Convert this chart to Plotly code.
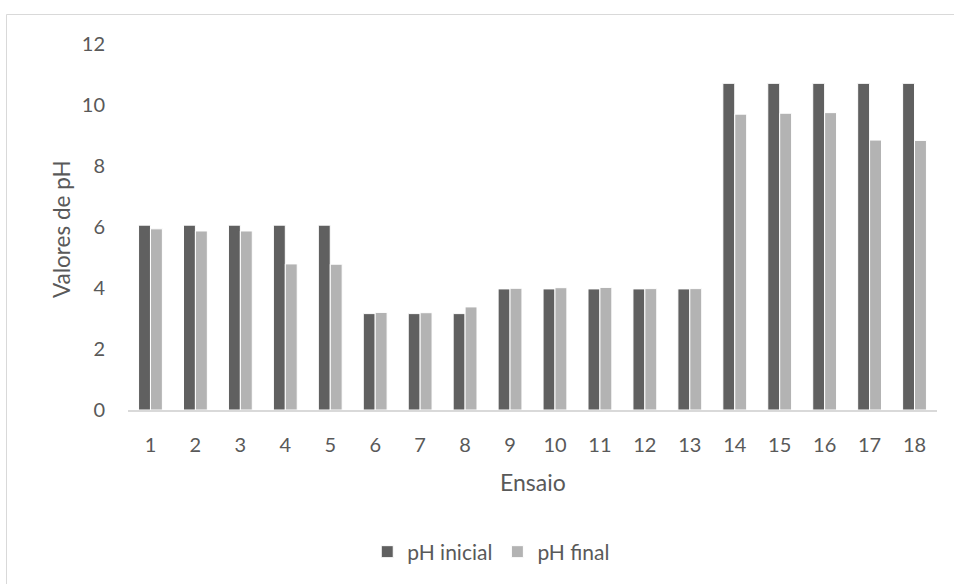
import plotly.graph_objects as go

ensaios = [str(i) for i in range(1, 19)]
ph_inicial = [6.06, 6.06, 6.06, 6.06, 6.06, 3.16, 3.16, 3.16, 3.97, 3.97,
              3.97, 3.97, 3.97, 10.71, 10.71, 10.71, 10.71, 10.71]
ph_final = [5.94, 5.87, 5.87, 4.79, 4.78, 3.20, 3.19, 3.38, 3.99, 4.01,
            4.02, 3.98, 3.98, 9.70, 9.73, 9.75, 8.85, 8.84]
y_ticks = [0, 2, 4, 6, 8, 10, 12]

TEXT = "#595959"
FONT = "Lato"

fig = go.Figure()
fig.add_trace(go.Bar(x=ensaios, y=ph_inicial, name="pH inicial",
                     marker=dict(color="#606060", line=dict(color="#ffffff", width=1))))
fig.add_trace(go.Bar(x=ensaios, y=ph_final, name="pH final",
                     marker=dict(color="#b3b3b3", line=dict(color="#ffffff", width=1))))

fig.update_layout(
    width=954, height=584,
    margin=dict(l=128, r=17, t=44, b=174),
    paper_bgcolor="white", plot_bgcolor="white",
    barmode="group", bargap=0.47, bargroupgap=0,
    font=dict(family=FONT, color=TEXT, size=18),
    showlegend=True,
    legend=dict(orientation="h", x=0.449, xanchor="center", y=-0.388, yanchor="middle",
                font=dict(size=21, color=TEXT), traceorder="normal",
                bgcolor="rgba(0,0,0,0)"),
    xaxis=dict(type="category", showgrid=False, zeroline=False, showline=True,
               linecolor="#d9d9d9", linewidth=1.5, ticks="", ticklabelstandoff=16,
               tickfont=dict(size=20, color=TEXT)),
    yaxis=dict(range=[0, 12], tickvals=y_ticks, showgrid=False, zeroline=False,
               showline=False, ticks="", ticklabelstandoff=22,
               tickfont=dict(size=20, color=TEXT)),
    annotations=[
        dict(text="Valores de pH", xref="paper", yref="paper",
             x=(61 - 128) / 809, y=(410 - 229) / 366, textangle=-90,
             showarrow=False, xanchor="center", yanchor="middle",
             font=dict(size=22.5, color=TEXT)),
        dict(text="Ensaio", xref="paper", yref="paper",
             x=0.5, y=(410 - 482) / 366, showarrow=False,
             xanchor="center", yanchor="middle", font=dict(size=23, color=TEXT)),
    ],
    shapes=[dict(type="rect", xref="paper", yref="paper",
                 x0=(6.5 - 128) / 809, x1=1.1, y0=-0.7, y1=(410 - 14.5) / 366,
                 line=dict(color="#d9d9d9", width=1), layer="below")],
)

fig.write_html("out.html", config={"displayModeBar": False})
